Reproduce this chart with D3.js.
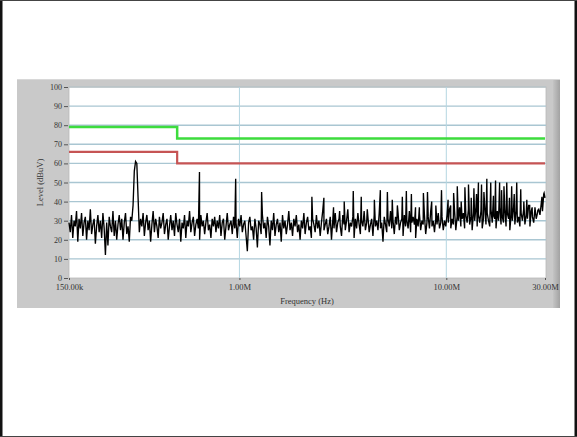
<!DOCTYPE html>
<html><head><meta charset="utf-8">
<script src="https://cdn.jsdelivr.net/npm/d3@7"></script>
<style>html,body{margin:0;padding:0;background:#fff;}svg{display:block;}</style>
</head><body>
<svg id="c" width="577" height="437"></svg>
<script>
// ---- data ----
const yTicks = [0,10,20,30,40,50,60,70,80,90,100];
const xTickValues = [150000, 1000000, 10000000, 30000000];
const xTickLabels = ["150.00k", "1.00M", "10.00M", "30.00M"];
const freqStart = 150000, freqStop = 30000000;
// limit lines: [freq Hz, level dBuV]
const limitQP = [[150000,79],[500000,79],[500000,73],[30000000,73]];
const limitAV = [[150000,66],[500000,66],[500000,60],[30000000,60]];
// measured trace levels, one per sweep step (log-spaced from 150 kHz to 30 MHz)
const traceLevels = [
29,24,33,21,30,27,35,19,31,26,34,22,29,32,20,30,25,36,23,28,
31,18,27,33,24,30,21,34,26,12,29,17,32,27,24,35,22,30,20,28,
33,25,31,20,29,34,23,27,19,32,
30,38,56,61,60,42,24,
31,27,34,22,29,33,25,30,19,28,35,24,31,27,21,32,26,29,34,23,
28,31,20,27,33,25,30,22,34,28,24,31,19,29,26,33,21,30,27,35,
24,29,32,22,28,31,26,20,33,27,30,23,29,34,25,28,21,31,27,32,
24,30,26,33,22,29,31,20,27,34,25,28,30,23,32,26,29,21,31,27,
33,24,28,30,22,14,29,32,25,27,20,31,26,16,30,28,23,33,26,29,
21,32,27,17,30,25,34,22,28,31,24,29,19,33,26,30,23,28,35,25,
29,22,31,27,33,24,28,20,30,26,34,23,29,32,25,27,21,31,28,24,
33,26,30,22,29,35,25,28,31,23,27,32,20,30,26,34,24,29,31,27,
22,33,28,25,30,36,24,29,27,32,21,31,26,34,28,23,30,27,35,25,
29,32,24,28,31,22,33,27,30,25,34,26,29,19,32,28,24,31,27,35,
26,30,23,32,28,34,25,29,31,22,33,27,30,26,35,24,29,32,28,21,
31,27,34,25,30,28,33,23,29,32,26,35,27,30,24,31,28,34,26,29,32,25,30,
27,33,29,36,26,31,28,35,25,32,30,37,27,31,34,26,33,29,36,28,
32,25,34,30,37,27,33,29,35,26,31,38,28,34,30,27,36,29,33,31,
26,35,30,37,28,32,29,36,27,34,31,25,33,30,37,28,35,29,32,27,
34,30,36,28,33,31,38,27,35,32,29,37,31,34,36,33,39,35,44,42
];
// narrow emission spikes: [freq MHz, level dBuV]
const spikes = [
[0.641,55.5],[0.959,52],[1.28,45],[2.24,42.5],[2.56,42],[2.85,37],[3.05,35],[3.21,40],
[3.55,45.5],[3.88,42.5],[4.15,36],[4.49,41],[4.80,46],[5.19,45],[5.48,41],[5.8,38],
[6.13,42.5],[6.41,45.5],[6.78,44],[7.10,37],[7.41,37],[7.75,44.5],[8.11,45],[8.5,40],
[8.9,38],[9.48,46],[10.2,41],[10.5,38],[10.85,44.5],[11.3,48],[11.8,40],[12.3,47.5],
[12.8,49],[13.2,42],[13.6,47],[14.0,44],[14.3,50],[14.8,49],[15.2,45],[15.7,52],
[16.4,50],[16.9,43],[17.3,51],[18.1,50],[18.5,46],[19.0,48],[19.6,50],[20.2,42],
[20.7,48],[21.3,44],[21.9,50],[22.9,46.5],[23.7,40],[24.5,41],[25.3,38],[26.0,37],
[26.8,36],[27.7,35.5],[29.0,42.5],[29.7,44.5]
];

// ---- drawing ----
const svg = d3.select("#c");
const L = 69, R = 545, T = 87, B = 278;
const x = d3.scaleLog().domain([freqStart, freqStop]).range([L, R]);
const y = d3.scaleLinear().domain([0, 100]).range([B, T]);

// page border
svg.append("rect").attr("x",0).attr("y",0).attr("width",577).attr("height",437).attr("fill","#fff");
svg.append("rect").attr("x",0).attr("y",0).attr("width",2.5).attr("height",437).attr("fill","#111");
svg.append("rect").attr("x",574.5).attr("y",0).attr("width",2.5).attr("height",437).attr("fill","#111");
svg.append("rect").attr("x",0).attr("y",0).attr("width",577).attr("height",1).attr("fill","#444");
svg.append("rect").attr("x",0).attr("y",436).attr("width",577).attr("height",1).attr("fill","#444");

// panel
const defs = svg.append("defs");
const g1 = defs.append("linearGradient").attr("id","shade").attr("x1","0").attr("x2","1");
g1.append("stop").attr("offset","0").attr("stop-color","#c4c4c4");
g1.append("stop").attr("offset","1").attr("stop-color","#a2a2a2");
svg.append("rect").attr("x",17).attr("y",79).attr("width",543).attr("height",229).attr("fill","#c9c9c9");
svg.append("rect").attr("x",553).attr("y",79).attr("width",7).attr("height",229).attr("fill","url(#shade)");
svg.append("rect").attr("x",17).attr("y",79).attr("width",543).attr("height",1).attr("fill","#d8d8d8");

// plot area
svg.append("rect").attr("x",L).attr("y",T).attr("width",R-L+1).attr("height",B-T).attr("fill","#fff")
  .attr("stroke","#b8b8b8").attr("stroke-width",0.8);

// grid
svg.append("g").selectAll("line").data(yTicks.filter(d=>d>0)).join("line")
  .attr("x1",L).attr("x2",R+1).attr("y1",d=>y(d)).attr("y2",d=>y(d))
  .attr("stroke",d=>d===100?"#b8c4c8":"#a9c6d2").attr("stroke-width",1.4);
svg.append("g").selectAll("line").data([1e6,1e7]).join("line")
  .attr("x1",d=>x(d)).attr("x2",d=>x(d)).attr("y1",T).attr("y2",B)
  .attr("stroke","#b4d6e2").attr("stroke-width",1);

// limit lines
const ln = d3.line().x(d=>x(d[0])).y(d=>y(d[1]));
svg.append("path").attr("d",ln(limitQP)).attr("fill","none").attr("stroke","#3ddc3d").attr("stroke-width",2.5);
svg.append("path").attr("d",ln(limitAV)).attr("fill","none").attr("stroke","#c65454").attr("stroke-width",2.2);

// trace
const n = traceLevels.length;
const lf0 = Math.log(freqStart), lf1 = Math.log(freqStop);
let pts = traceLevels.map((v,i)=>[Math.exp(lf0+(lf1-lf0)*i/(n-1)), v]);
spikes.forEach(s=>pts.push([s[0]*1e6, s[1]]));
pts.sort((a,b)=>a[0]-b[0]);
svg.append("path").attr("d",ln(pts)).attr("fill","none").attr("stroke","#000").attr("stroke-width",1.35)
  .attr("stroke-linejoin","miter");

// axes
const font = "'Liberation Serif','DejaVu Serif',serif";
const ya = svg.append("g").attr("transform",`translate(${L-1},0)`)
  .call(d3.axisLeft(y).tickValues(yTicks).tickSize(4).tickPadding(2).tickFormat(d3.format("d")));
ya.select(".domain").remove();
ya.selectAll("line").attr("stroke","#555");
ya.selectAll("text").attr("font-family",font).attr("font-size","8px").attr("fill","#333");

const xa = svg.append("g").attr("transform",`translate(0,${B})`)
  .call(d3.axisBottom(x).tickValues(xTickValues).tickSize(2).tickPadding(4)
    .tickFormat((d,i)=>xTickLabels[i]));
xa.select(".domain").remove();
xa.selectAll("line").attr("stroke","#555");
xa.selectAll("text").attr("font-family",font).attr("font-size","8.5px").attr("fill","#333");

svg.append("text").attr("x",307).attr("y",304).attr("text-anchor","middle")
  .attr("font-family",font).attr("font-size","8.5px").attr("fill","#333").text("Frequency (Hz)");
svg.append("text").attr("transform",`translate(43,${(T+B)/2}) rotate(-90)`).attr("text-anchor","middle")
  .attr("font-family",font).attr("font-size","8.5px").attr("fill","#333").text("Level (dBuV)");
</script>
</body></html>
